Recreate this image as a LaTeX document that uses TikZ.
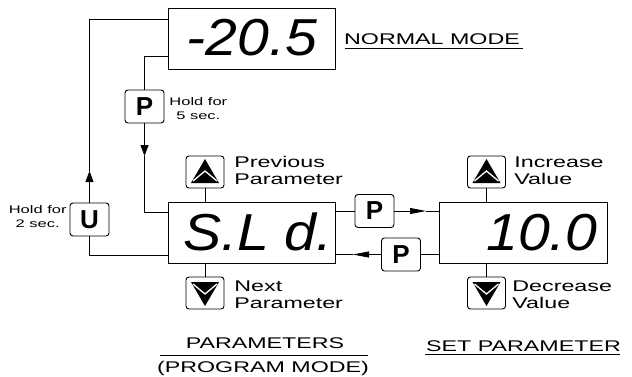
\documentclass[tikz,border=0pt]{standalone}
\usepackage{fontspec}
\setmainfont{Liberation Sans}[FakeStretch=1.5]
\newfontfamily\lcdfont{Liberation Sans}[FakeStretch=1.1]
\newfontfamily\keyfont{Liberation Sans}
\usetikzlibrary{arrows.meta, calc}

% arrow key glyphs, #1 = key node
\newcommand\upglyph[1]{%
  \fill ([yshift=13pt]#1.center) -- ([shift={(-14pt,-11pt)}]#1.center)
    -- ([shift={(14pt,-11pt)}]#1.center) -- cycle;
  \draw[white, line width=1.3pt] ([shift={(-12pt,-9pt)}]#1.center)
    -- ([yshift=1pt]#1.center) -- ([shift={(12pt,-9pt)}]#1.center);
}
\newcommand\downglyph[1]{%
  \fill ([yshift=-13pt]#1.center) -- ([shift={(-14pt,11pt)}]#1.center)
    -- ([shift={(14pt,11pt)}]#1.center) -- cycle;
  \draw[white, line width=1.3pt] ([shift={(-12pt,9pt)}]#1.center)
    -- ([yshift=-1pt]#1.center) -- ([shift={(12pt,9pt)}]#1.center);
}

\begin{document}
\begin{tikzpicture}[x=1pt, y=-1pt, line width=0.9pt,
  display/.style={draw, minimum width=167pt, minimum height=61pt, inner sep=0pt},
  lcd/.style={font=\lcdfont\itshape\fontsize{52}{52}\selectfont, inner sep=0pt},
  keybox/.style={draw, rounded corners=3pt, minimum width=39pt, minimum height=33pt,
    inner sep=0pt, font=\keyfont\bfseries\fontsize{26}{26}\selectfont},
  arrowkey/.style={keybox, minimum width=38pt, minimum height=32pt},
  lbl/.style={font=\fontsize{15.5}{17}\selectfont, align=left, inner sep=0pt, anchor=west},
  hold/.style={font=\fontsize{11}{14}\selectfont, align=center, inner sep=0pt},
  heading/.style={font=\fontsize{15.5}{17}\selectfont, inner sep=0pt, anchor=base},
  vtip/.style={-{Triangle[length=11pt,width=8pt]}},
  htip/.style={-{Triangle[length=16pt,width=6pt]}}]
\fill[white] (0,0) rectangle (632,376);
\useasboundingbox (0,0) rectangle (632,376);

% displays
\node[display] (normal) at (251.5,38.5) {};
\node[lcd, anchor=base] (normalval) at (252,55) {-20.5};
\node[display] (sld) at (251.5,233) {};
\node[lcd, anchor=base east] (sldval) at (333,250) {\spaceskip=.3em S.L d.};
\node[display, minimum width=168pt] (setv) at (523,232.5) {};
\node[lcd, anchor=base east] (setval) at (598,250) {10.0};

% keys
\node[keybox] (pP) at (144.5,106.5) {P};
\node[keybox] (pU) at (89.5,219.5) {U};
\node[keybox] (pR) at (374.5,211) {P};
\node[keybox] (pL) at (401,254.5) {P};
\node[arrowkey] (up1) at (205,172) {};
\node[arrowkey] (dn1) at (205,293) {};
\node[arrowkey] (up2) at (486.5,172) {};
\node[arrowkey] (dn2) at (486.5,293) {};
\upglyph{up1}
\downglyph{dn1}
\upglyph{up2}
\downglyph{dn2}

% labels
\node[lbl] (prevlbl) at (234,170.5) {Previous\\Parameter};
\node[lbl] (nextlbl) at (234,295) {Next\\Parameter};
\node[lbl] (inclbl) at (514,171) {Increase\\Value};
\node[lbl] (declbl) at (512,295) {Decrease\\Value};
\node[hold, anchor=west] (hold5) at (169,108.5) {Hold for\\5 sec.};
\node[hold, anchor=east] (hold2) at (67,217) {Hold for\\2 sec.};

% headings
\node[heading] (normlbl) at (432,44) {NORMAL MODE};
\draw (345,48) -- (523,48);
\node[heading] (parlbl) at (265,348) {PARAMETERS};
\draw (160,355) -- (368,355);
\node[heading] (proglbl) at (263,372) {(PROGRAM MODE)};
\node[heading] (setlbl) at (523.5,351) {SET PARAMETER};
\draw (425,354) -- (620,354);

% back to normal mode
\coordinate (tipU) at (89.5,171);
\draw[vtip] (pU.north) -- (tipU);
\draw (tipU) |- (normal.west |- 0,19);
\draw (pU.south) |- (sld.west |- 0,255);
% into program mode
\coordinate (tipP) at (144.5,156);
\draw (normal.west |- 0,56) -| (pP.north);
\draw[vtip] (pP.south) -- (tipP);
\draw (tipP) |- (sld.west |- 0,212);
% parameter <-> value
\coordinate (tipR) at (426,211);
\draw (sld.east |- pR.west) -- (pR.west);
\draw[htip] (pR.east) -- (tipR);
\draw (tipR) -- (setv.west |- pR.east);
\coordinate (tipL) at (353,254.5);
\draw (setv.west |- pL.east) -- (pL.east);
\draw[htip] (pL.west) -- (tipL);
\draw (tipL) -- (sld.east |- pL.west);

% key stubs
\draw (up1.south) -- (up1.south |- sld.north);
\draw (dn1.north) -- (dn1.north |- sld.south);
\draw (up2.south) -- (up2.south |- setv.north);
\draw (dn2.north) -- (dn2.north |- setv.south);
\end{tikzpicture}
\end{document}
